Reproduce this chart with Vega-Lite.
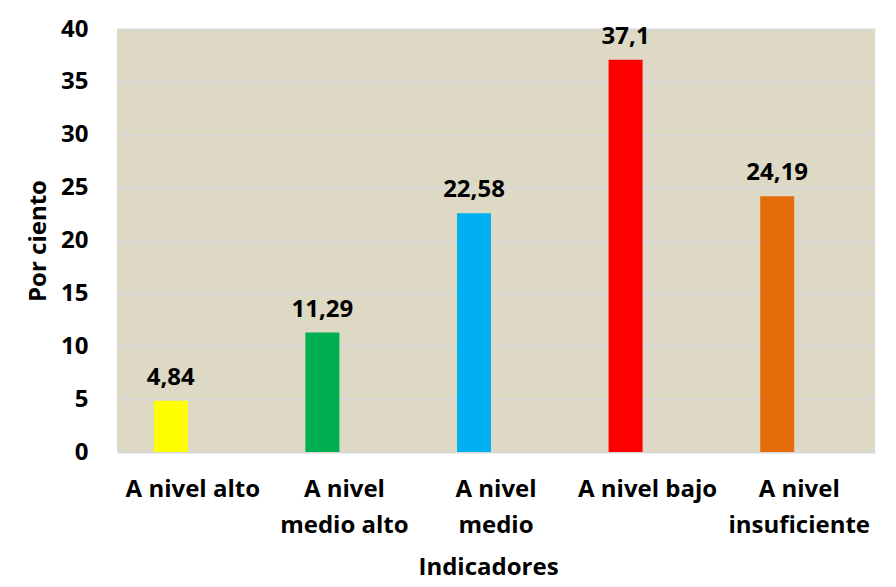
{
  "$schema": "https://vega.github.io/schema/vega-lite/v6.json",
  "width": 758,
  "height": 423,
  "autosize": {"type": "none"},
  "padding": {"left": 117, "top": 29, "right": 21, "bottom": 135},
  "background": "white",
  "config": {
    "font": "Open Sans",
    "view": {"fill": "#DDD9C4", "stroke": null},
    "locale": {"number": {"decimal": ",", "thousands": ".", "grouping": [3], "currency": ["", ""]}},
    "axis": {"labelFont": "Open Sans", "titleFont": "Open Sans", "labelColor": "black", "titleColor": "black"}
  },
  "data": {
    "values": [
      {"indicador": "A nivel alto", "valor": 4.84, "color": "#FFFF00"},
      {"indicador": "A nivel medio alto", "valor": 11.29, "color": "#00B050"},
      {"indicador": "A nivel medio", "valor": 22.58, "color": "#00B0F0"},
      {"indicador": "A nivel bajo", "valor": 37.1, "color": "#FF0000"},
      {"indicador": "A nivel insuficiente", "valor": 24.19, "color": "#E46C0A"}
    ]
  },
  "encoding": {
    "x": {
      "field": "indicador",
      "type": "nominal",
      "sort": null,
      "scale": {"paddingInner": 0, "paddingOuter": 0},
      "axis": {
        "title": "Indicadores",
        "titleFontSize": 24,
        "titleFontWeight": "bold",
        "titlePadding": 18,
        "titleX": 371,
        "labelFontSize": 24,
        "labelFontWeight": "bold",
        "labelAngle": 0,
        "labelPadding": 25,
        "labelLineHeight": 36,
        "labelBaseline": "top",
        "labelExpr": "datum.value == 'A nivel alto' || datum.value == 'A nivel bajo' ? datum.value : ['A nivel', substring(datum.value, 8)]",
        "ticks": false,
        "domain": false,
        "grid": false
      }
    },
    "y": {
      "field": "valor",
      "type": "quantitative",
      "scale": {"domain": [0, 40]},
      "axis": {
        "title": "Por ciento",
        "titleFontSize": 24,
        "titleFontWeight": "bold",
        "titlePadding": 10,
        "values": [0, 5, 10, 15, 20, 25, 30, 35, 40],
        "labelFontSize": 24,
        "labelFontWeight": "bold",
        "labelPadding": 29,
        "ticks": false,
        "domain": false,
        "grid": true,
        "gridColor": "#D9D9D9",
        "gridWidth": 2
      }
    }
  },
  "layer": [
    {
      "mark": {"type": "bar", "width": 34, "xOffset": -22},
      "encoding": {
        "color": {"field": "color", "type": "nominal", "scale": null, "legend": null}
      }
    },
    {
      "mark": {"type": "text", "xOffset": -22, "dy": -16, "baseline": "alphabetic", "fontSize": 24, "fontWeight": "bold", "font": "Open Sans", "color": "black"},
      "encoding": {
        "text": {"field": "valor", "type": "quantitative", "format": ".4~g"}
      }
    }
  ]
}
